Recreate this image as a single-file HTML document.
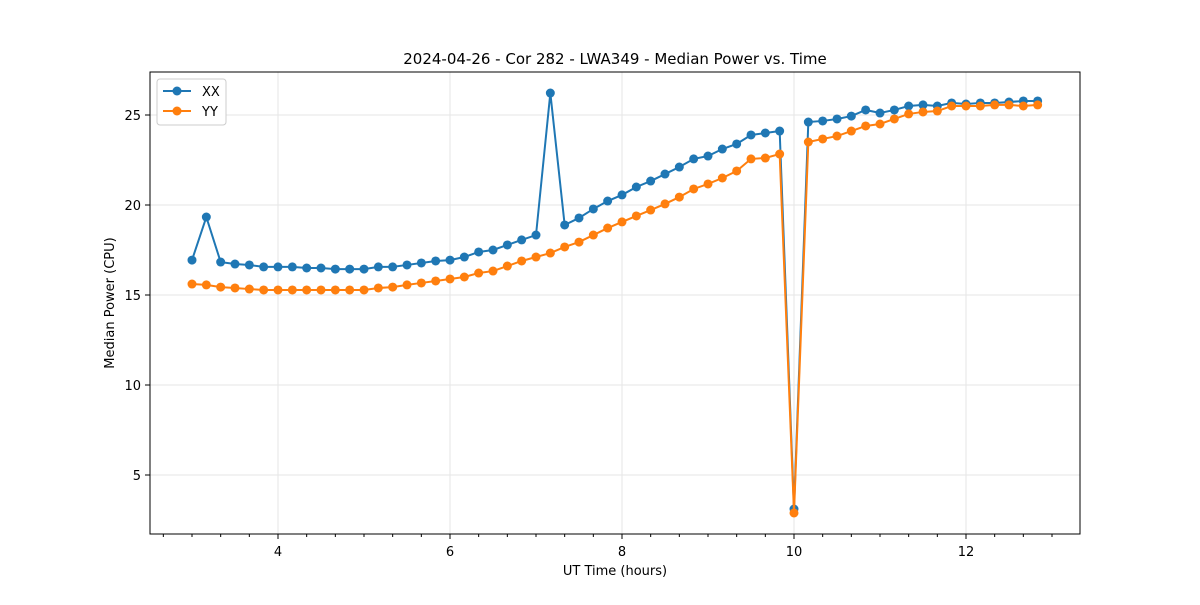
<!DOCTYPE html>
<html><head><meta charset="utf-8"><style>
body{margin:0;background:#fff;}
svg text{font-family:"DejaVu Sans","Liberation Sans",sans-serif;fill:#000;}
</style></head><body>
<svg id="chart" width="1200" height="600">
<rect width="1200" height="600" fill="#fff"/>
<text x="615" y="64" font-size="15" text-anchor="middle">2024-04-26 - Cor 282 - LWA349 - Median Power vs. Time</text>
<g id="grid"></g>
<g id="axes"></g>
<g id="series"></g>
<rect x="150" y="72" width="930" height="462" fill="none" stroke="#000" stroke-width="1"/>
<text x="615" y="575" font-size="13" text-anchor="middle">UT Time (hours)</text>
<text transform="translate(114,303) rotate(-90)" font-size="13" text-anchor="middle">Median Power (CPU)</text>
<g>
<rect x="157" y="79" width="69" height="46" rx="3" fill="#fff" stroke="#ccc"/>
<g><line x1="163" y1="91" x2="191" y2="91" stroke="#1f77b4" stroke-width="2"/><circle cx="177" cy="91" r="4.5" fill="#1f77b4"/><text x="202" y="96" font-size="13">XX</text></g>
<g><line x1="163" y1="111" x2="191" y2="111" stroke="#ff7f0e" stroke-width="2"/><circle cx="177" cy="111" r="4.5" fill="#ff7f0e"/><text x="202" y="116" font-size="13">YY</text></g>
</g>
</svg>
<script>
const startHour = 3.0;
const stepHour = 1/6;
const xxValues = [16.94,19.33,16.83,16.72,16.67,16.56,16.56,16.56,16.5,16.5,16.44,16.44,16.44,16.56,16.56,16.67,16.78,16.89,16.94,17.11,17.39,17.5,17.78,18.06,18.33,26.22,18.89,19.28,19.78,20.22,20.56,21.0,21.33,21.72,22.11,22.56,22.72,23.11,23.39,23.89,24.0,24.11,3.11,24.61,24.67,24.78,24.94,25.28,25.11,25.28,25.5,25.56,25.5,25.67,25.61,25.67,25.67,25.72,25.78,25.78];
const yyValues = [15.61,15.56,15.44,15.39,15.33,15.28,15.28,15.28,15.28,15.28,15.28,15.28,15.28,15.39,15.44,15.56,15.67,15.78,15.89,16.0,16.22,16.33,16.61,16.89,17.11,17.33,17.67,17.94,18.33,18.72,19.06,19.39,19.72,20.06,20.44,20.89,21.17,21.5,21.89,22.56,22.61,22.83,2.89,23.5,23.67,23.83,24.11,24.39,24.5,24.78,25.06,25.17,25.22,25.5,25.5,25.5,25.56,25.56,25.5,25.56];
const xTicks = [4,6,8,10,12];
const yTicks = [5,10,15,20,25];
const NS='http://www.w3.org/2000/svg';
const X = h => -66 + 86*h;
const Y = v => 565 - 18*v;
function mk(tag, attrs, parent){const e=document.createElementNS(NS,tag);for(const k in attrs)e.setAttribute(k,attrs[k]);parent.appendChild(e);return e;}
const grid=document.getElementById('grid'), axes=document.getElementById('axes'), series=document.getElementById('series');
xTicks.forEach(t=>{
  const g=mk('line',{x1:X(t),x2:X(t),y1:72,y2:534,stroke:'#e5e5e5'},grid);
  
  
  mk('line',{x1:X(t),x2:X(t),y1:534,y2:539,stroke:'#000'},axes);
  const tx=mk('text',{x:X(t),y:556,'font-size':13,'text-anchor':'middle'},axes);
  tx.textContent=t;
  
  
});
for(let m=6;m<=40;m++){const h=m/3; if(Math.abs(h-Math.round(h/2)*2)<1e-6) continue; if(X(h)<150||X(h)>1080) continue; mk('line',{x1:X(h),x2:X(h),y1:534,y2:537,stroke:'#000'},axes);}
yTicks.forEach(t=>{
  const g=mk('line',{x1:150,x2:1080,y1:Y(t),y2:Y(t),stroke:'#e5e5e5'},grid);
  
  
  mk('line',{x1:145,x2:150,y1:Y(t),y2:Y(t),stroke:'#000'},axes);
  const tx=mk('text',{x:141,y:Y(t)+5,'font-size':13,'text-anchor':'end'},axes);
  tx.textContent=t;
  
  
});
function drawSeries(vals,color,name){
  const pts=vals.map((v,i)=>[X(startHour+i*stepHour),Y(v)]);
  const pl=mk('polyline',{points:pts.map(p=>p.join(',')).join(' '),fill:'none',stroke:color,'stroke-width':2},series);
  
  
  pts.forEach(p=>{
    const c=mk('circle',{cx:p[0],cy:p[1],r:4.5,fill:color},series);
    
    
  });
}
drawSeries(xxValues,'#1f77b4','xx');
drawSeries(yyValues,'#ff7f0e','yy');
</script>
</body></html>
